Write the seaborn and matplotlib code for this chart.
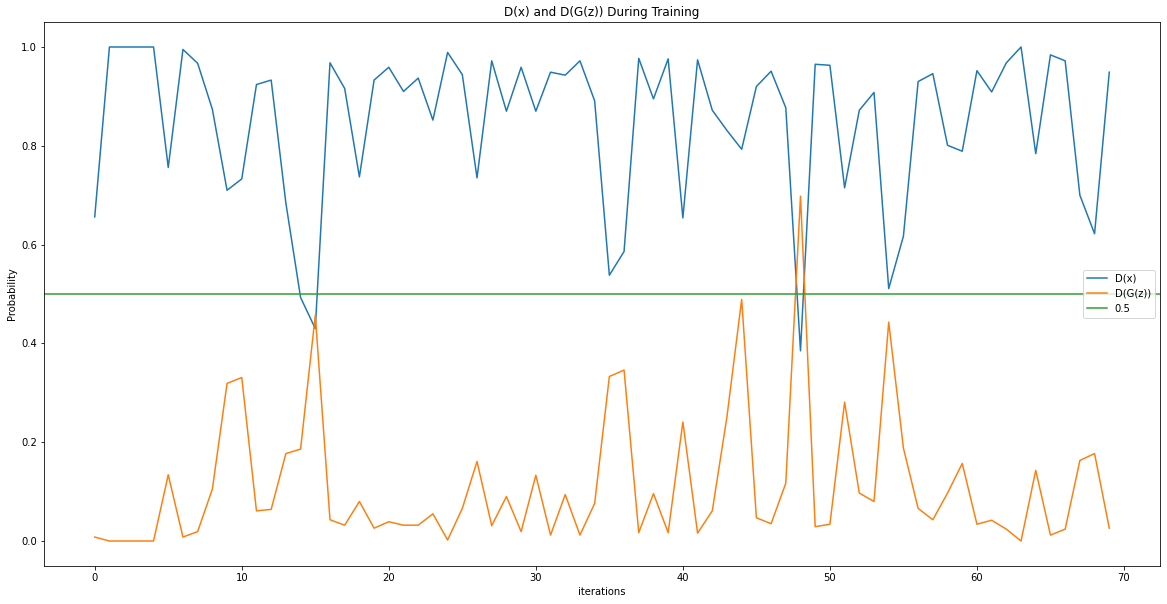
import numpy as np
import matplotlib
matplotlib.use("Agg")
import matplotlib.pyplot as plt
import seaborn as sns

# discriminator outputs, one per iteration
d_x = [0.656, 1.000, 1.000, 1.000, 1.000, 0.756, 0.995, 0.967, 0.874, 0.710,
       0.733, 0.924, 0.933, 0.684, 0.493, 0.430, 0.968, 0.916, 0.737, 0.933,
       0.959, 0.910, 0.937, 0.852, 0.989, 0.944, 0.735, 0.972, 0.870, 0.959,
       0.870, 0.949, 0.943, 0.972, 0.891, 0.538, 0.586, 0.977, 0.895, 0.976,
       0.654, 0.974, 0.872, 0.831, 0.793, 0.920, 0.951, 0.877, 0.385, 0.965,
       0.963, 0.715, 0.872, 0.908, 0.511, 0.617, 0.930, 0.946, 0.801, 0.789,
       0.952, 0.909, 0.968, 1.000, 0.784, 0.984, 0.972, 0.700, 0.622, 0.949]

d_g_z = [0.008, 0.000, 0.000, 0.000, 0.000, 0.134, 0.008, 0.019, 0.105, 0.319,
         0.331, 0.061, 0.064, 0.177, 0.186, 0.457, 0.043, 0.032, 0.080, 0.026,
         0.039, 0.032, 0.032, 0.055, 0.002, 0.066, 0.161, 0.031, 0.090, 0.019,
         0.133, 0.012, 0.094, 0.012, 0.076, 0.333, 0.346, 0.017, 0.096, 0.017,
         0.241, 0.016, 0.061, 0.252, 0.489, 0.047, 0.035, 0.117, 0.698, 0.029,
         0.034, 0.281, 0.097, 0.080, 0.443, 0.188, 0.066, 0.043, 0.097, 0.157,
         0.034, 0.042, 0.024, 0.000, 0.143, 0.012, 0.024, 0.163, 0.177, 0.026]

iterations = np.arange(len(d_x))
threshold = 0.5

fig = plt.figure(figsize=(1167 / 72, 604 / 72), dpi=72)
ax = fig.add_axes([0.0377, 0.0634, 0.9563, 0.8997])

sns.lineplot(x=iterations, y=d_x, label="D(x)", color="C0", ax=ax)
sns.lineplot(x=iterations, y=d_g_z, label="D(G(z))", color="C1", ax=ax)
ax.axhline(threshold, color="C2", label="0.5")

ax.set_title("D(x) and D(G(z)) During Training")
ax.set_xlabel("iterations")
ax.set_ylabel("Probability")
ax.legend(loc="center right")

fig.savefig("out.png", dpi=72)
